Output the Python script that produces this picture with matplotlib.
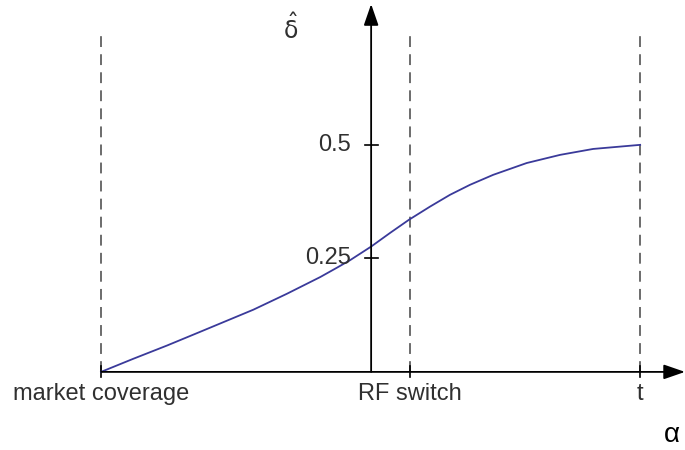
import matplotlib
matplotlib.use("Agg")
import matplotlib.pyplot as plt

# curve (alpha, delta-hat); y-axis sits at alpha = 0
alpha = [-0.500, -0.440, -0.378, -0.317, -0.218, -0.156, -0.094, -0.064, -0.039,
         0.000, 0.035, 0.070, 0.109, 0.146, 0.183, 0.226, 0.288, 0.350, 0.411, 0.498]
delta = [0.000, 0.029, 0.058, 0.088, 0.137, 0.172, 0.209, 0.229, 0.246,
         0.276, 0.306, 0.335, 0.364, 0.390, 0.412, 0.434, 0.460, 0.478, 0.491, 0.500]

x_marks = [-0.500, 0.072, 0.498]
x_labels = ["market coverage", "RF switch", "t"]
y_ticks = [0.25, 0.5]
y_labels = ["0.25", "0.5"]

plt.rcParams['font.family'] = ['Liberation Sans', 'DejaVu Sans']
plt.rcParams['mathtext.fontset'] = 'dejavusans'

fig = plt.figure(figsize=(6.85, 4.5), dpi=100)
ax = fig.add_axes([0, 0, 1, 1])
ax.set_xlim(-0.687, 0.581)
ax.set_ylim(-0.172, 0.819)
ax.axis('off')

# dashed guide lines
for xm in x_marks:
    ax.plot([xm, xm], [0, 0.745], color='#606060', linestyle=(0, (6, 4)), linewidth=1.3)

# axes with arrows
ax.annotate('', xy=(0.581, 0), xytext=(-0.5, 0),
            arrowprops=dict(arrowstyle='-|>,head_length=1.3,head_width=0.45',
                            color='black', lw=1.3, shrinkA=0, shrinkB=0))
ax.annotate('', xy=(0, 0.81), xytext=(0, 0),
            arrowprops=dict(arrowstyle='-|>,head_length=1.3,head_width=0.45',
                            color='black', lw=1.3, shrinkA=0, shrinkB=0))

# ticks
for xm in x_marks:
    ax.plot([xm, xm], [-0.012, 0.012], color='black', linewidth=1.2)
for yt in y_ticks:
    ax.plot([-0.012, 0.012], [yt, yt], color='black', linewidth=1.2)

for xm, lab in zip(x_marks, x_labels):
    ax.text(xm, -0.025, lab, ha='center', va='top', fontsize=17, color='#303030')
for yt, lab in zip(y_ticks, y_labels):
    ax.text(-0.038, yt, lab, ha='right', va='center', fontsize=17, color='#303030')

ax.text(0.556, -0.14, 'α', ha='center', va='center', fontsize=20, color='black')
ax.text(-0.149, 0.755, r'$\hat{\mathrm{\delta}}$', ha='center', va='center',
        fontsize=17, color='#303030')

# curve
ax.plot(alpha, delta, color='#3a3a9a', linewidth=1.3)

fig.savefig('out.png', dpi=100)
